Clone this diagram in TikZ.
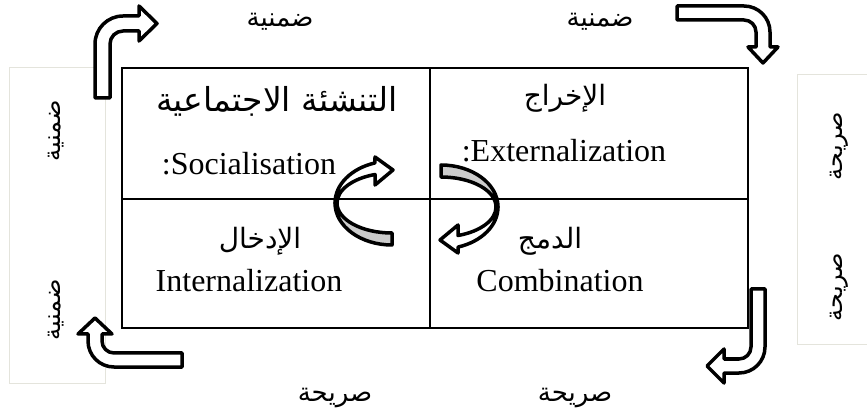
\documentclass[tikz,border=0pt]{standalone}
\usepackage{fontspec}
\setmainfont{Liberation Serif}
\newfontfamily\arabicfont[Script=Arabic]{DejaVu Sans}
\TeXXeTstate=1
\begin{document}
\begin{tikzpicture}[x=1pt,y=-1pt,
  grid/.style={line width=2.5pt},
  sidebox/.style={draw={rgb,255:red,228;green,228;blue,220},line width=1pt},
  blockarrow/.style={draw=black,fill=white,line width=3.5pt,line join=round},
  backside/.style={draw=black,fill={rgb,255:red,204;green,204;blue,204},line width=3.5pt,line join=round},
  ar/.style={font=\arabicfont\fontsize{26}{31}\selectfont,inner sep=0pt},
  arbig/.style={font=\arabicfont\fontsize{33}{40}\selectfont,inner sep=0pt},
  arside/.style={font=\arabicfont\fontsize{24}{29}\selectfont,inner sep=0pt,rotate=90},
  lat/.style={font=\fontsize{32}{38}\selectfont,inner sep=0pt,anchor=base},
]
\useasboundingbox (0,0) rectangle (867,419);

% side frames
\draw[sidebox] (9,68) rectangle (105,383);
\draw[sidebox] (797,75) rectangle (880,345);

% the four-cell table
\draw[grid] (122,68) rectangle (748,328);
\draw[grid] (430,68) -- (430,328);
\draw[grid] (122,199) -- (748,199);

% bent block arrows round the table
\draw[blockarrow] (95,98) -- (95,44) arc[start angle=180,end angle=270,radius=28]
  -- (139,16) -- (139,6) -- (157,23.5) -- (139,41) -- (139,31) -- (123,31)
  arc[start angle=270,end angle=180,radius=13] -- (110,98) -- cycle;
\draw[blockarrow] (677,6) -- (744,6) arc[start angle=270,end angle=360,radius=26]
  -- (770,47) -- (778,47) -- (763,63) -- (748,47) -- (756,47) -- (756,32)
  arc[start angle=360,end angle=270,radius=12] -- (677,20) -- cycle;
\draw[blockarrow] (751,289) -- (765,289) -- (765,347) arc[start angle=0,end angle=90,radius=26]
  -- (724,373) -- (724,383) -- (707,366) -- (724,349) -- (724,359) -- (739,359)
  arc[start angle=90,end angle=0,radius=12] -- cycle;
\draw[blockarrow] (182,353) -- (182,367) -- (114,367) arc[start angle=90,end angle=180,radius=26]
  -- (88,334) -- (78,334) -- (95,318) -- (112,334) -- (102,334) -- (102,341)
  arc[start angle=180,end angle=90,radius=12] -- cycle;

% curved arrows in the middle
\def\curvedarrow{%
  \draw[backside] (392,245) arc[start angle=90,end angle=180,x radius=57,y radius=42]
    -- (337,203) arc[start angle=180,end angle=90,x radius=55,y radius=30] -- cycle;
  \draw[blockarrow] (335,203) arc[start angle=180,end angle=252.6,x radius=57,y radius=42]
    -- (375,157) -- (393,170) -- (375,185) -- (375,174.5)
    arc[start angle=252,end angle=180,x radius=55,y radius=30] -- cycle;}
\curvedarrow
\begin{scope}[rotate around={180:(416.5,205)}]
\curvedarrow
\end{scope}

% labels outside the table
\node[ar] (tl) at (280,22) {\beginR ضمنية\endR};
\node[ar] (tr) at (600,22) {\beginR ضمنية\endR};
\node[ar] (bl) at (335,398) {\beginR صريحة\endR};
\node[ar] (br) at (575,398) {\beginR صريحة\endR};
\node[arside] (l1) at (56,131) {\beginR ضمنية\endR};
\node[arside] (l2) at (56,310) {\beginR ضمنية\endR};
\node[arside] (r1) at (839,146) {\beginR صريحة\endR};
\node[arside] (r2) at (839,287) {\beginR صريحة\endR};

% cell texts
\node[arbig] (soc) at (277,101) {\beginR التنشئة الاجتماعية\endR};
\node[lat] (soce) at (249,175) {:Socialisation};
\node[ar,font=\arabicfont\fontsize{28}{34}\selectfont] (ext) at (565,98) {\beginR الإخراج\endR};
\node[lat] (exte) at (564,162) {:Externalization};
\node[ar,font=\arabicfont\fontsize{28}{34}\selectfont] (com) at (550,241) {\beginR الدمج\endR};
\node[lat] (come) at (560,292) {Combination};
\node[ar,font=\arabicfont\fontsize{28}{34}\selectfont] (int) at (260,241) {\beginR الإدخال\endR};
\node[lat] (inte) at (249,292) {Internalization};
\end{tikzpicture}
\end{document}
